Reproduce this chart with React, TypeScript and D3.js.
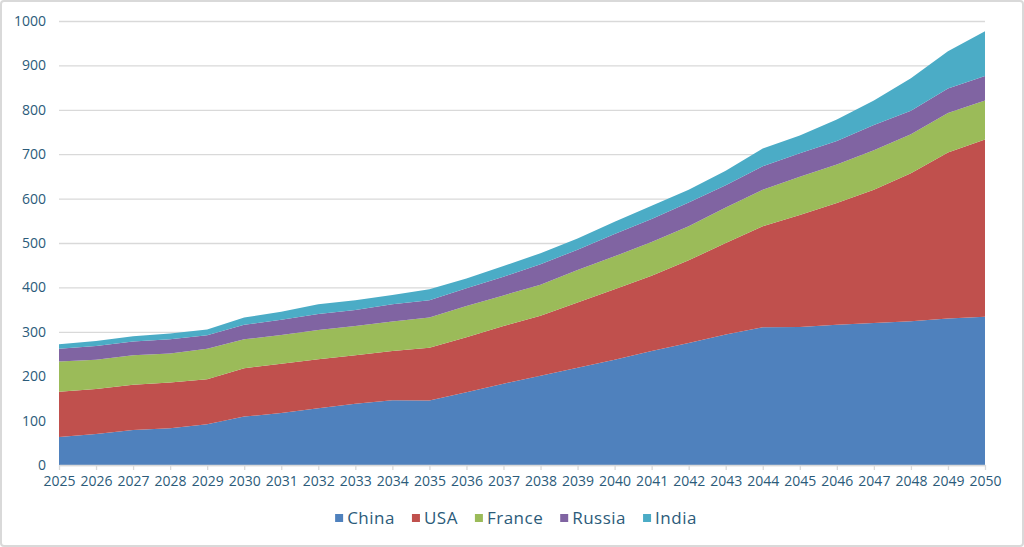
import { area, axisBottom, axisLeft, scaleLinear, scalePoint, select, stack } from 'd3'
import { useEffect, useRef } from 'react'

const years = [
  2025, 2026, 2027, 2028, 2029, 2030, 2031, 2032, 2033, 2034, 2035, 2036, 2037,
  2038, 2039, 2040, 2041, 2042, 2043, 2044, 2045, 2046, 2047, 2048, 2049, 2050,
]

const countries = ['China', 'USA', 'France', 'Russia', 'India']

const china = [63, 70, 79, 83, 92, 109, 117, 128, 138, 146, 145, 164, 183, 201, 219, 237, 257, 275, 294, 310, 311, 316, 320, 324, 330, 334]
const usa = [102, 101, 102, 103, 101, 109, 111, 110, 109, 111, 119, 124, 130, 135, 147, 159, 169, 186, 206, 228, 252, 274, 300, 333, 374, 399]
const france = [68, 66, 66, 65, 69, 65, 65, 66, 66, 66, 68, 70, 69, 70, 73, 74, 76, 77, 80, 82, 86, 87, 89, 88, 89, 88]
const russia = [29, 31, 31, 32, 30, 33, 34, 36, 36, 39, 39, 40, 42, 46, 46, 50, 52, 53, 50, 53, 53, 53, 57, 53, 55, 55]
const india = [10, 11, 12, 13, 13, 16, 18, 22, 22, 21, 25, 22, 24, 25, 25, 28, 30, 29, 33, 40, 40, 48, 55, 73, 84, 101]

const yTicks = [0, 100, 200, 300, 400, 500, 600, 700, 800, 900, 1000]

const colors = ['#4f81bd', '#c0504d', '#9bbb59', '#8064a2', '#4bacc6']

export default function App() {
  const svgRef = useRef<SVGSVGElement>(null)

  useEffect(() => {
    const width = 1024
    const height = 547
    const margin = { top: 21, right: 39, bottom: 82, left: 59 }
    const textColor = '#2b5b7a'
    const font = '"Open Sans", sans-serif'

    const svg = select(svgRef.current)
    svg.selectAll('*').remove()

    // frame
    svg
      .append('rect')
      .attr('x', 1)
      .attr('y', 1)
      .attr('width', width - 2)
      .attr('height', height - 2)
      .attr('rx', 3)
      .attr('fill', '#fff')
      .attr('stroke', '#d9d9d9')
      .attr('stroke-width', 2)

    const table = years.map((year, i) => ({
      year,
      China: china[i],
      USA: usa[i],
      France: france[i],
      Russia: russia[i],
      India: india[i],
    }))

    const x = scalePoint<number>()
      .domain(years)
      .range([margin.left, width - margin.right])
    const y = scaleLinear()
      .domain([0, 1000])
      .range([height - margin.bottom, margin.top])

    // gridlines + y labels
    svg
      .append('g')
      .attr('transform', 'translate(' + margin.left + ',0)')
      .call(
        axisLeft(y)
          .tickValues(yTicks)
          .tickFormat((d) => String(d))
          .tickSize(-(width - margin.left - margin.right))
          .tickPadding(13)
      )
      .call((g) => g.select('.domain').remove())
      .call((g) => g.selectAll('.tick line').attr('stroke', '#d9d9d9').attr('stroke-width', 1.3))
      .call((g) =>
        g
          .selectAll('.tick text')
          .attr('fill', textColor)
          .style('font-family', font)
          .style('font-size', '14px')
      )

    // stacked areas
    const series = stack<any>().keys(countries)(table)
    const shape = area<any>()
      .x((d) => x(d.data.year) as number)
      .y0((d) => y(d[0]))
      .y1((d) => y(d[1]))

    svg
      .append('g')
      .selectAll('path')
      .data(series)
      .enter()
      .append('path')
      .attr('d', shape as any)
      .attr('fill', (_d, i) => colors[i])

    // x axis
    svg
      .append('g')
      .attr('transform', 'translate(0,' + (height - margin.bottom) + ')')
      .call(axisBottom(x).tickSize(5).tickSizeOuter(0).tickPadding(6))
      .call((g) => g.select('.domain').attr('stroke', '#d9d9d9').attr('stroke-width', 1.3))
      .call((g) => g.selectAll('.tick line').attr('stroke', '#d9d9d9').attr('stroke-width', 1.3))
      .call((g) =>
        g
          .selectAll('.tick text')
          .attr('fill', textColor)
          .style('font-family', font)
          .style('font-size', '14px')
      )

    // legend
    const legend = svg.append('g')
    let cursor = 0
    countries.forEach((name, i) => {
      const item = legend.append('g').attr('transform', 'translate(' + cursor + ',0)')
      item
        .append('rect')
        .attr('x', 0)
        .attr('y', -4)
        .attr('width', 8)
        .attr('height', 8)
        .attr('fill', colors[i])
      const label = item
        .append('text')
        .attr('x', 12)
        .attr('dy', '0.35em')
        .attr('fill', textColor)
        .style('font-family', font)
        .style('font-size', '17px')
        .style('letter-spacing', '0.5px')
        .text(name)
      const w = (label.node() as SVGTextElement).getComputedTextLength()
      cursor += 12 + w + 17
    })
    const total = cursor - 17
    legend.attr('transform', 'translate(' + (516 - total / 2) + ',518)')
  }, [])

  return (
    <svg
      ref={svgRef}
      width={1024}
      height={547}
      style={{ position: 'absolute', left: 0, top: 0, display: 'block' }}
    />
  )
}
